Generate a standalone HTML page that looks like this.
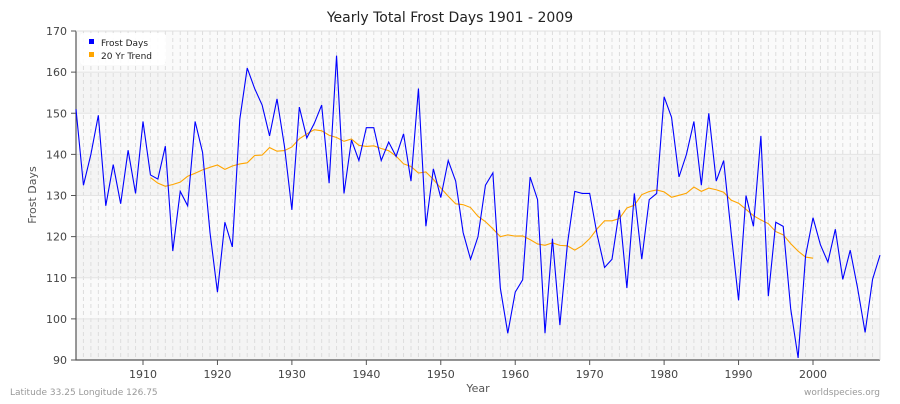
<!DOCTYPE html>
<html><head><meta charset="utf-8"><style>
body{margin:0;background:#fff;font-family:"DejaVu Sans",sans-serif}
svg text{font-family:"DejaVu Sans",sans-serif}
</style></head><body>
<svg id="chart" width="900" height="400">
<text x="450" y="22" text-anchor="middle" font-size="14" fill="#222">Yearly Total Frost Days 1901 - 2009</text>
<g id="grid"></g><g id="axes"></g><g id="series"></g>
<text x="478" y="392" text-anchor="middle" font-size="11" fill="#555">Year</text>
<text transform="translate(36,195) rotate(-90)" text-anchor="middle" font-size="11" fill="#555">Frost Days</text>
<text x="10" y="395" font-size="9" fill="#999">Latitude 33.25 Longitude 126.75</text>
<text x="880" y="395" text-anchor="end" font-size="9" fill="#999">worldspecies.org</text>
<g>
<rect x="80" y="33" width="86" height="32" rx="4" fill="#fff" opacity="0.9"/>
<rect x="89" y="39" width="5" height="5" fill="#0000ff"/>
<text x="101" y="46" font-size="9" fill="#222">Frost Days</text>
<rect x="89" y="52" width="5" height="5" fill="#ffa500"/>
<text x="101" y="59" font-size="9" fill="#222">20 Yr Trend</text>
</g>
</svg>
<script>
const startYear = 1901;
const frostDays = [151,132.5,140,149.5,127.5,137.5,128,141,130.5,148,
135,134,142,116.5,131,127.5,148,140.5,121,106.5,
123.5,117.5,148.5,161,156,152,144.5,153.5,142,126.5,
151.5,144,147.5,152,133,164,130.5,143.5,138.5,146.5,
146.5,138.5,143,139.5,145,133.5,156,122.5,136.5,129.5,
138.5,133.5,121,114.5,120,132.5,135.5,107.5,96.5,106.5,
109.5,134.5,129,96.5,119.5,98.5,118,131,130.5,130.5,
120.5,112.5,114.5,126.5,107.5,130.5,114.5,129,130.5,154,
149,134.5,140,148,132.5,150,133.5,138.5,121,104.5,
130,122.5,144.5,105.5,123.5,122.5,102.5,90.5,115.3,124.6,
118,113.8,121.8,109.6,116.7,107.4,96.7,109.6,115.5];
const yTicks = [90,100,110,120,130,140,150,160,170];
const xTicks = [1910,1920,1930,1940,1950,1960,1970,1980,1990,2000];
const X0=76,X1=880,Y0=31,Y1=360,YMIN=90,YMAX=170,XMIN=1901,XMAX=2009;
const xs=y=>X0+(y-XMIN)*(X1-X0)/(XMAX-XMIN);
const ys=v=>Y1-(v-YMIN)*(Y1-Y0)/(YMAX-YMIN);
const NS='http://www.w3.org/2000/svg';
function mk(tag,attrs,parent){const e=document.createElementNS(NS,tag);for(const k in attrs)e.setAttribute(k,attrs[k]);parent.appendChild(e);return e;}
const grid=document.getElementById('grid'),axes=document.getElementById('axes'),series=document.getElementById('series');
for(let i=0;i<yTicks.length-1;i++){
 const b=mk('rect',{x:X0,y:ys(yTicks[i+1]),width:X1-X0,height:ys(yTicks[i])-ys(yTicks[i+1]),fill:(i%2==0)?'#f4f4f4':'#fafafa'},grid);
 
 
}
for(let yr=XMIN;yr<=XMAX;yr++){
 const l=mk('line',{x1:xs(yr),x2:xs(yr),y1:Y0,y2:Y1,stroke:'#dddddd','stroke-width':1,'stroke-dasharray':'4,3'},grid);
 
 
}
yTicks.forEach(v=>{
 const l=mk('line',{x1:X0,x2:X1,y1:ys(v),y2:ys(v),stroke:'#e4e4e4','stroke-width':1},grid);
 
 
 const t=mk('line',{x1:X0-5,x2:X0,y1:ys(v),y2:ys(v),stroke:'#555'},axes);
 
 
 const tx=mk('text',{x:X0-9,y:ys(v)+4,'text-anchor':'end','font-size':11,fill:'#444'},axes);
 tx.textContent=v;
 
 
});
xTicks.forEach(v=>{
 const t=mk('line',{x1:xs(v),x2:xs(v),y1:Y1,y2:Y1+5,stroke:'#555'},axes);
 
 
 const tx=mk('text',{x:xs(v),y:Y1+18,'text-anchor':'middle','font-size':11,fill:'#444'},axes);
 tx.textContent=v;
 
 
});
const ax=mk('path',{d:`M${X0},${Y0}V${Y1}H${X1}`,fill:'none',stroke:'#555','stroke-width':1.2},axes);


const tr=mk('path',{d:`M${X0},${Y0}H${X1}V${Y1}`,fill:'none',stroke:'#e0e0e0','stroke-width':1},axes);


let tp=[];
for(let i=10;i+9<frostDays.length;i++){let s=0;for(let j=i-10;j<=i+9;j++)s+=frostDays[j];tp.push(xs(startYear+i)+','+ys(s/20));}
const trend=mk('polyline',{points:tp.join(' '),fill:'none',stroke:'#ffa500','stroke-width':1.1},series);


const pts=frostDays.map((v,i)=>xs(startYear+i)+','+ys(v)).join(' ');
const line=mk('polyline',{points:pts,fill:'none',stroke:'#0000ff','stroke-width':1.1},series);


</script>
</body></html>
